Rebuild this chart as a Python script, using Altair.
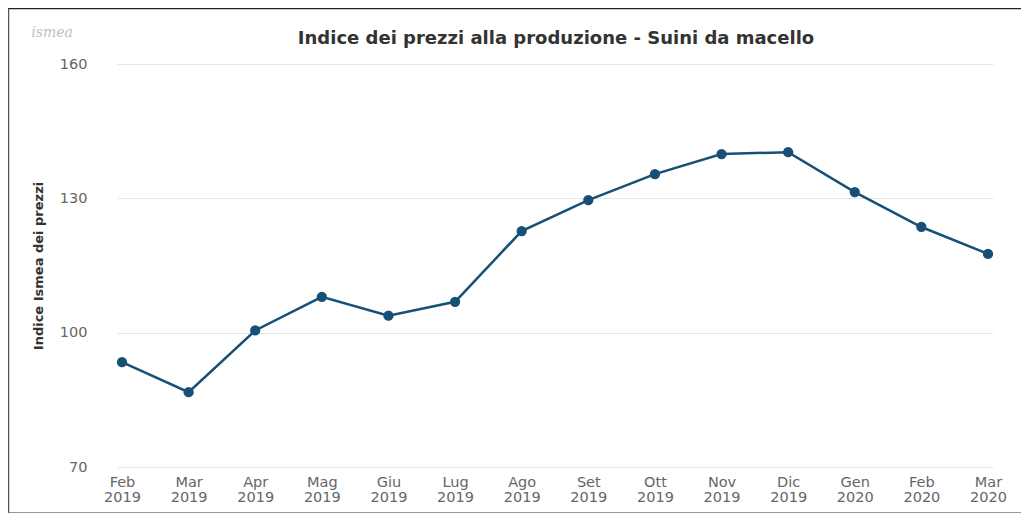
import altair as alt
import pandas as pd

mesi = ["Feb 2019", "Mar 2019", "Apr 2019", "Mag 2019", "Giu 2019", "Lug 2019",
        "Ago 2019", "Set 2019", "Ott 2019", "Nov 2019", "Dic 2019", "Gen 2020",
        "Feb 2020", "Mar 2020"]
indice = [93.4, 86.7, 100.5, 108.0, 103.8, 106.9, 122.7, 129.6, 135.4, 139.9,
          140.3, 131.4, 123.6, 117.6]
y_ticks = [70, 100, 130, 160]
titolo = "Indice dei prezzi alla produzione - Suini da macello"

df = pd.DataFrame({"mese": mesi, "indice": indice})
one = pd.DataFrame({"k": [0]})

W, H = 876, 403
COL = "#175077"

x_enc = alt.X("mese:O", sort=mesi,
              scale=alt.Scale(type="point", padding=0.075),
              axis=alt.Axis(title=None, labelAngle=0, labelExpr="split(datum.label, ' ')",
                            labelLineHeight=15, labelPadding=8, ticks=False, domain=False,
                            grid=False, labelColor="#666666", labelFontSize=14.5,
                            labelFont="DejaVu Sans"))
y_enc = alt.Y("indice:Q", scale=alt.Scale(domain=[70, 160], nice=False, zero=False),
              axis=alt.Axis(title="Indice Ismea dei prezzi", values=y_ticks, ticks=False,
                            domain=False, gridColor="#e6e6e6", labelPadding=30,
                            labelColor="#666666", labelFontSize=14.5, labelFont="DejaVu Sans",
                            titleFont="DejaVu Sans", titleFontSize=13, titleFontWeight="bold",
                            titleColor="#333333", titlePadding=14))

line = alt.Chart(df).mark_line(color=COL, strokeWidth=2.5).encode(x=x_enc, y=y_enc)
pts = alt.Chart(df).mark_point(color=COL, filled=True, opacity=1, size=105).encode(
    x=alt.X("mese:O", sort=mesi), y="indice:Q")

frame_left = alt.Chart(one).mark_rule(color="#555555", strokeWidth=1.5).encode(
    x=alt.value(-108.5), y=alt.value(-57), y2=alt.value(449))
frame_top = alt.Chart(one).mark_rule(color="#222222", strokeWidth=1.5).encode(
    x=alt.value(-108.5), x2=alt.value(W + 28), y=alt.value(-55.5))
frame_bot = alt.Chart(one).mark_rule(color="#777777", strokeWidth=1.5).encode(
    x=alt.value(-108.5), x2=alt.value(W + 28), y=alt.value(449))
logo = alt.Chart(one).mark_text(text="ismea", color="#c0c0c0", fontStyle="italic",
                                fontSize=14, font="DejaVu Serif").encode(
    x=alt.value(-65), y=alt.value(-31))
title = alt.Chart(one).mark_text(text=titolo, color="#333333", fontWeight="bold",
                                 fontSize=18, font="DejaVu Sans", align="center",
                                 baseline="middle").encode(
    x=alt.value(W / 2 + 1), y=alt.value(-25))

chart = alt.layer(line, pts, frame_left, frame_top, frame_bot, logo, title).properties(
    width=W, height=H,
    autosize=alt.AutoSizeParams(type="none"),
    padding={"left": 109, "top": 56, "right": 28, "bottom": 46},
).configure_view(stroke=None)

chart.save("out.html", embed_options={"renderer": "svg", "actions": False})
